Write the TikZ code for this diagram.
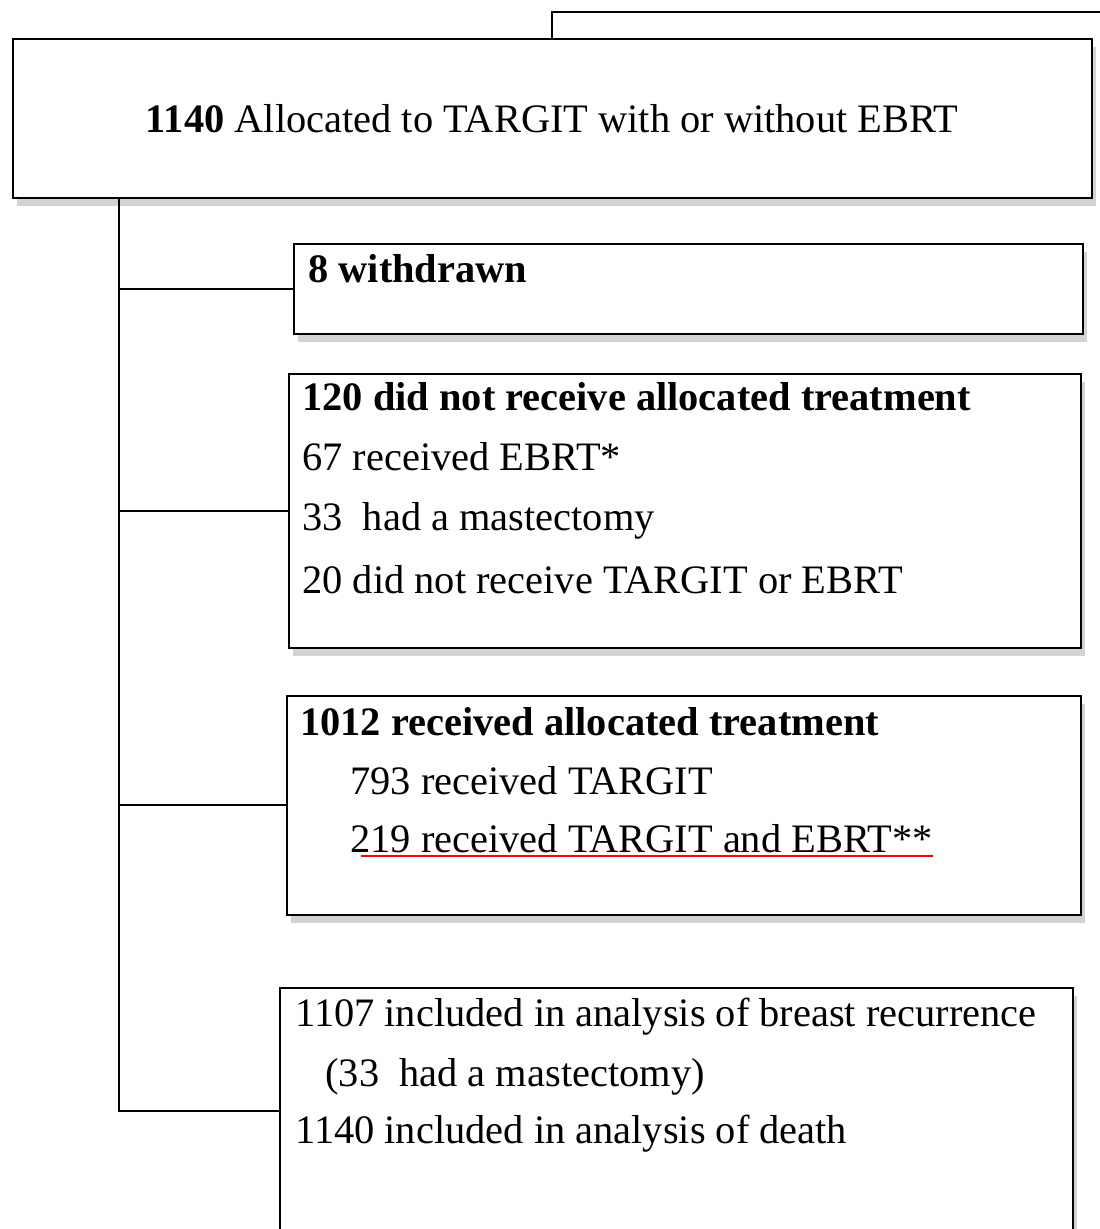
\documentclass[tikz,border=0pt]{standalone}
\usepackage{fontspec}
\setmainfont{Liberation Serif}
\usetikzlibrary{shadows}
\tikzstyle{rect} = [rectangle, draw=black, line width=1pt, fill=white, anchor=north west, drop shadow={shadow xshift=2.5pt, shadow yshift=-4.5pt, opacity=0.35}]
\tikzstyle{txt} = [anchor=base west, inner sep=0pt, font=\fontsize{23}{28}\selectfont]
\tikzstyle{wire} = [line width=1pt]

\begin{document}
\begin{tikzpicture}[x=0.02cm, y=-0.02cm]

            \useasboundingbox (0,0) rectangle (1099,1229);

            %% boxes

            \node (alloc) [rect, minimum width=21.58cm, minimum height=3.18cm, font=\fontsize{23}{28}\selectfont] at (12,38) {\textbf{1140} Allocated to TARGIT with or without EBRT};
            \node (withdr) [rect, minimum width=15.78cm, minimum height=1.8cm] at (293,243) {};
            \node (notrec) [rect, minimum width=15.84cm, minimum height=5.48cm] at (288,373) {};
            \node (rec) [rect, minimum width=15.88cm, minimum height=4.38cm] at (286,695) {};
            \node (anal) [rect, minimum width=15.86cm, minimum height=4.92cm] at (279,987) {};

            %% texts

            \node (t2) [txt] at (308,283) {\textbf{8 withdrawn}};

            \node (t3a) [txt] at (302,410) {\textbf{120 did not receive allocated treatment}};
            \node (t3b) [txt] at (302,470) {67 received EBRT*};
            \node (t3c) [txt] at (302,530) {33~~had a mastectomy};
            \node (t3d) [txt] at (302,593) {20 did not receive TARGIT or EBRT};

            \node (t4a) [txt] at (300,735) {\textbf{1012 received allocated treatment}};
            \node (t4b) [txt] at (350,794) {793 received TARGIT};
            \node (t4c) [txt] at (350,852) {219 received TARGIT and EBRT**};
            \draw [red, line width=1pt] ([xshift=0.22cm, yshift=-0.08cm]t4c.base west) -- ([yshift=-0.08cm]t4c.base east);

            \node (t5a) [txt] at (295,1026) {1107 included in analysis of breast recurrence};
            \node (t5b) [txt] at (325,1086) {(33~~had a mastectomy)};
            \node (t5c) [txt] at (295,1143) {1140 included in analysis of death};

            %% lines

            \coordinate (trunk) at ([xshift=2.14cm]alloc.south west);
            \coordinate (far) at (1120,12);

            \draw [wire] (alloc.north) |- (far);
            \draw [wire] (trunk) |- (anal.west);
            \draw [wire] (trunk |- withdr.west) -- (withdr.west);
            \draw [wire] (trunk |- notrec.west) -- (notrec.west);
            \draw [wire] (trunk |- rec.west) -- (rec.west);

        \end{tikzpicture}
\end{document}
